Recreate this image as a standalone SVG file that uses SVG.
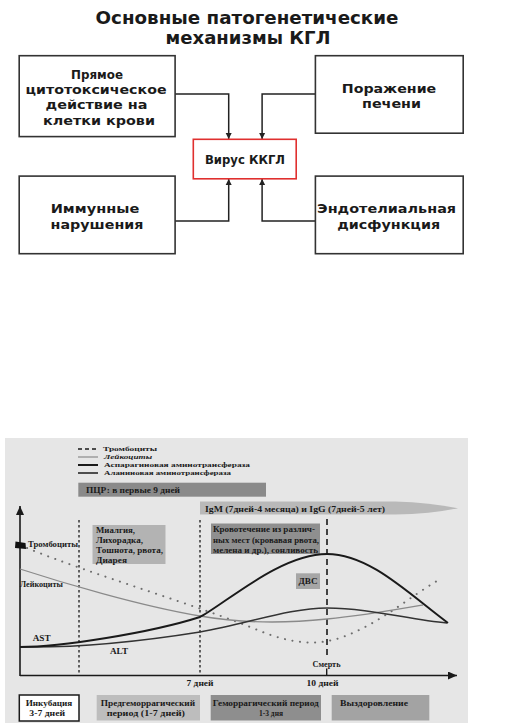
<svg xmlns="http://www.w3.org/2000/svg" width="529" height="724" viewBox="0 0 529 724">
<style>
.t{font-family:"DejaVu Sans","Liberation Sans",sans-serif;font-weight:bold;font-size:13px;fill:#1a1a1a;text-anchor:middle}
.ti{font-size:17px}
.box{fill:#fff;stroke:#333;stroke-width:1.6}
.red{fill:#fff;stroke:#e0302f;stroke-width:1.6}
.con{fill:none;stroke:#222;stroke-width:1.5}
.c{font-family:"Liberation Serif","Times New Roman",serif;font-weight:bold;font-size:8.5px;fill:#1a1a1a}
.lg{font-size:6.8px}
.m{text-anchor:middle}
.ax{stroke:#1a1a1a;stroke-width:1.6;fill:none}
</style>
<defs>
<marker id="ah" markerUnits="userSpaceOnUse" markerWidth="7" markerHeight="7" refX="6" refY="3.5" orient="auto">
<path d="M0,0.5 L6,3.5 L0,6.5 z" fill="#222"/>
</marker>
<marker id="ax" markerUnits="userSpaceOnUse" markerWidth="10" markerHeight="8" refX="9" refY="4" orient="auto">
<path d="M0,0 L9,4 L0,8 z" fill="#1a1a1a"/>
</marker>
</defs>
<rect width="529" height="724" fill="#fff"/>
<g id="title">
<text class="t ti" x="247" y="24" textLength="303" lengthAdjust="spacingAndGlyphs">Основные патогенетические</text>
<text class="t ti" x="248" y="44" textLength="165" lengthAdjust="spacingAndGlyphs">механизмы КГЛ</text>
</g>
<g id="connectors">
<path class="con" d="M175,94 H228.7 V139" marker-end="url(#ah)"/>
<path class="con" d="M315.4,94 H262.1 V139" marker-end="url(#ah)"/>
<path class="con" d="M175,221 H228.7 V179" marker-end="url(#ah)"/>
<path class="con" d="M315.4,221 H262.1 V179" marker-end="url(#ah)"/>
</g>
<g id="node-cyto">
<rect class="box" x="19.2" y="55.7" width="155.9" height="80.9"/>
<text class="t" x="97" y="78.5" textLength="52" lengthAdjust="spacingAndGlyphs">Прямое</text>
<text class="t" x="96" y="94" textLength="141" lengthAdjust="spacingAndGlyphs">цитотоксическое</text>
<text class="t" x="96.5" y="108.8" textLength="102" lengthAdjust="spacingAndGlyphs">действие на</text>
<text class="t" x="99" y="124.5" textLength="112" lengthAdjust="spacingAndGlyphs">клетки крови</text>
</g>
<g id="node-liver">
<rect class="box" x="315.4" y="55.7" width="147.8" height="77.5"/>
<text class="t" x="389" y="93" textLength="94.5" lengthAdjust="spacingAndGlyphs">Поражение</text>
<text class="t" x="391.5" y="107.5" textLength="59" lengthAdjust="spacingAndGlyphs">печени</text>
</g>
<g id="node-virus">
<rect class="red" x="193.3" y="139.3" width="102.9" height="39.5"/>
<text class="t" x="245" y="164" font-size="11" textLength="80" lengthAdjust="spacingAndGlyphs">Вирус ККГЛ</text>
</g>
<g id="node-immune">
<rect class="box" x="19.2" y="176.1" width="155.9" height="77.6"/>
<text class="t" x="95" y="212.5" textLength="88.7" lengthAdjust="spacingAndGlyphs">Иммунные</text>
<text class="t" x="97" y="228.5" textLength="92.8" lengthAdjust="spacingAndGlyphs">нарушения</text>
</g>
<g id="node-endo">
<rect class="box" x="315.4" y="176.1" width="147.8" height="77.6"/>
<text class="t" x="386.6" y="212.5" textLength="139" lengthAdjust="spacingAndGlyphs">Эндотелиальная</text>
<text class="t" x="388.7" y="228.5" textLength="103" lengthAdjust="spacingAndGlyphs">дисфункция</text>
</g>
<g id="chart">
<rect x="5" y="438" width="463" height="285" fill="#e6e6e6"/>
<g id="legend">
<line x1="78" y1="449" x2="98" y2="449" stroke="#1a1a1a" stroke-width="1.6" stroke-dasharray="4 3"/>
<line x1="78" y1="457" x2="98" y2="457" stroke="#8a8a8a" stroke-width="1.2"/>
<line x1="78" y1="465" x2="98" y2="465" stroke="#1a1a1a" stroke-width="2"/>
<line x1="78" y1="473" x2="98" y2="473" stroke="#1a1a1a" stroke-width="1.5"/>
<text class="c lg" x="103" y="451.2" textLength="54" lengthAdjust="spacingAndGlyphs">Тромбоциты</text>
<text class="c lg" x="104" y="459.2" font-style="italic" textLength="48" lengthAdjust="spacingAndGlyphs">Лейкоциты</text>
<text class="c lg" x="104" y="467.2" textLength="146" lengthAdjust="spacingAndGlyphs">Аспарагиновая аминотрансфераза</text>
<text class="c lg" x="104" y="475.2" textLength="127" lengthAdjust="spacingAndGlyphs">Аланиновая аминотрансфераза</text>
</g>
<g id="pcr">
<rect x="78.3" y="482.7" width="187.7" height="14" fill="#8a8a8a"/>
<text class="c" x="86" y="492.7" textLength="94" lengthAdjust="spacingAndGlyphs">ПЦР: в первые 9 дней</text>
</g>
<g id="antibodies">
<path d="M200,501.5 H395 Q430,502.5 458,508.3 Q430,514 395,514.5 H200 Z" fill="#b9b9b9"/>
<text class="c" x="205" y="511.5" textLength="180" lengthAdjust="spacingAndGlyphs">IgM (7дней-4 месяца) и IgG (7дней-5 лет)</text>
</g>
<g id="axes">
<line class="ax" x1="20" y1="676" x2="20" y2="506" marker-end="url(#ax)"/>
<line class="ax" x1="20" y1="675.5" x2="457" y2="675.5" marker-end="url(#ax)"/>
<line x1="79" y1="520" x2="79" y2="675" stroke="#1a1a1a" stroke-width="1.3" stroke-dasharray="2.5 2.5"/>
<line x1="200" y1="520" x2="200" y2="675" stroke="#1a1a1a" stroke-width="1.3" stroke-dasharray="2.5 2.5"/>
<line x1="327" y1="519" x2="327" y2="658" stroke="#1a1a1a" stroke-width="1.6" stroke-dasharray="6 4"/>
<line x1="326.7" y1="668.5" x2="326.7" y2="675" stroke="#1a1a1a" stroke-width="1.4"/>
</g>
<g id="symptoms1">
<rect x="92.5" y="525" width="73" height="39" fill="#b3b3b3"/>
<text class="c" x="96" y="533.3" textLength="39" lengthAdjust="spacingAndGlyphs">Миалгия,</text>
<text class="c" x="96" y="543.3" textLength="47" lengthAdjust="spacingAndGlyphs">Лихорадка,</text>
<text class="c" x="96" y="552.6" textLength="67" lengthAdjust="spacingAndGlyphs">Тошнота, рвота,</text>
<text class="c" x="96" y="562.6" textLength="31" lengthAdjust="spacingAndGlyphs">Диарея</text>
</g>
<g id="symptoms2">
<rect x="211" y="523.5" width="109" height="30.5" fill="#8f8f8f"/>
<text class="c" x="213" y="532.3" textLength="102" lengthAdjust="spacingAndGlyphs">Кровотечение из различ-</text>
<text class="c" x="213" y="543" textLength="106" lengthAdjust="spacingAndGlyphs">ных мест (кровавая рвота,</text>
<text class="c" x="213" y="552.6" textLength="105" lengthAdjust="spacingAndGlyphs">мелена и др.), сонливость</text>
</g>
<g id="dic">
<rect x="296" y="573.3" width="24" height="15.7" fill="#a6a6a6"/>
<text class="c m" x="308" y="584" textLength="19" lengthAdjust="spacingAndGlyphs">ДВС</text>
</g>
<g id="curves" fill="none">
<path d="M27,548 C90,574 200,606 260,631 C290,643 315,646 340,638 C380,624 410,596 442,578" stroke="#6e6e6e" stroke-width="2" stroke-linecap="round" stroke-dasharray="0.1 7.5"/>
<path d="M20,569 C60,582 140,606 200,616 C240,623 280,624 327,619 C360,616 400,609 423,605" stroke="#8a8a8a" stroke-width="1.3"/>
<path d="M20,647 C80,648 150,640 200,632 C250,623 290,608 327,608 C370,608 410,620 447,623" stroke="#333" stroke-width="1.5"/>
<path d="M20,647 C60,647 150,633 200,617 C225,604 280,554 327,554 C370,554 410,595 448,623" stroke="#1a1a1a" stroke-width="1.9"/>
</g>
<g id="curve-labels">
<path d="M15.5,541.5 L25.5,543 L26,549 L15,548 Z" fill="#111"/>
<text class="c" x="28" y="546.5" textLength="50" lengthAdjust="spacingAndGlyphs">Тромбоциты</text>
<text class="c" x="20" y="586.5" textLength="43" lengthAdjust="spacingAndGlyphs">Лейкоциты</text>
<text class="c" x="32.7" y="640.5" textLength="18" lengthAdjust="spacingAndGlyphs">AST</text>
<text class="c" x="110" y="654" textLength="18" lengthAdjust="spacingAndGlyphs">ALT</text>
<text class="c m" x="326.5" y="667" textLength="28" lengthAdjust="spacingAndGlyphs">Смерть</text>
<text class="c m" x="200" y="686" textLength="27" lengthAdjust="spacingAndGlyphs">7 дней</text>
<text class="c m" x="322.5" y="686" textLength="32" lengthAdjust="spacingAndGlyphs">10 дней</text>
</g>
<g id="periods">
<rect x="19.3" y="695" width="59.7" height="26" fill="#fff" stroke="#1a1a1a" stroke-width="1.5"/>
<text class="c m" x="49" y="705.5" textLength="46.7" lengthAdjust="spacingAndGlyphs">Инкубация</text>
<text class="c m" x="47.2" y="715.5" textLength="35.7" lengthAdjust="spacingAndGlyphs">3-7 дней</text>
<rect x="96.7" y="695" width="103.3" height="25.5" fill="#bdbdbd"/>
<text class="c m" x="147.9" y="705.5" textLength="94.3" lengthAdjust="spacingAndGlyphs">Предгеморрагический</text>
<text class="c m" x="145.8" y="715.5" textLength="78.3" lengthAdjust="spacingAndGlyphs">период  (1-7 дней)</text>
<rect x="210.7" y="695" width="110.3" height="25.5" fill="#8e8e8e"/>
<text class="c m" x="265.8" y="705.5" textLength="106" lengthAdjust="spacingAndGlyphs">Геморрагический  период</text>
<text class="c m" x="271" y="715.5" textLength="24" lengthAdjust="spacingAndGlyphs">1-3 дня</text>
<rect x="331.7" y="695" width="97.6" height="25.5" fill="#a3a3a3"/>
<text class="c" x="340" y="705.5" textLength="68" lengthAdjust="spacingAndGlyphs">Выздоровление</text>
</g>
</g>
</svg>
